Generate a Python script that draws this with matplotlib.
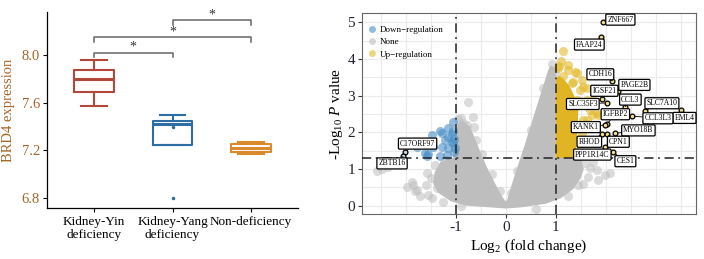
import numpy as np
import matplotlib
matplotlib.use('Agg')
import matplotlib.pyplot as plt
from matplotlib.lines import Line2D

plt.rcParams['font.family'] = ['Liberation Serif', 'DejaVu Serif']
plt.rcParams['mathtext.fontset'] = 'custom'
plt.rcParams['mathtext.rm'] = 'Liberation Serif'
plt.rcParams['mathtext.it'] = 'Liberation Serif:italic'
plt.rcParams['axes.unicode_minus'] = False

# ---------------- left panel: BRD4 boxplot ----------------
groups = ['Kidney-Yin\ndeficiency', 'Kidney-Yang\ndeficiency', 'Non-deficiency']
box_whislo = [7.575, 7.244, 7.17]
box_q1 = [7.686, 7.244, 7.19]
box_med = [7.80, 7.425, 7.222]
box_q3 = [7.875, 7.445, 7.25]
box_whishi = [7.955, 7.50, 7.27]
box_fliers = [[], [6.80], []]
box_colors = ['#B5473A', '#2E6DA4', '#D98A2E']
yang_dot = [7.40]

sig_pairs = [(1, 2), (1, 3), (2, 3)]
sig_heights = [8.02, 8.15, 8.29]
sig_labels = ['*', '*', '*']

# ---------------- right panel: volcano ----------------
# dense grey core (outline)
none_core_x = [-1.35, -1.1, -0.8, -0.3, 0.0, 0.3, 0.8, 1.1, 1.35, 1.5, 1.56, 1.5,
               1.0, 1.0, 0.97, 0.9, 0.85, 0.66, 0.39, 0.15, 0.03, 0.0, -0.05, -0.18,
               -0.38, -0.55, -0.71, -0.85, -0.95, -1.0, -1.05, -1.3, -1.42, -1.45]
none_core_y = [0.35, 0.12, 0.0, -0.05, -0.08, -0.05, 0.05, 0.2, 0.45, 0.75, 1.0, 1.3,
               1.3, 3.6, 3.78, 3.82, 3.7, 2.88, 1.7, 0.7, 0.16, 0.12, 0.2, 0.52,
               1.06, 1.61, 2.15, 2.29, 2.25, 2.0, 1.3, 1.2, 0.9, 0.6]
none_x = [-2.58, -2.48, -2.35, -1.98, -1.88, -1.85, -1.81, -1.78, -1.71, -1.6, -1.58,
          -1.55, -1.38, -1.25, -0.75, -0.65, -0.85, -0.78, -0.63, -0.9,
          1.82, 1.99, 2.09, 1.69, 1.65, 1.58, 1.75, 1.55, 1.85, 0.92,
          -1.48, -1.42, -1.5, -1.2, -0.95, -0.6, -0.48, -0.28, -0.12,
          0.1, 0.22, 0.5, 0.74, 1.25, 1.45, -1.25, -0.9, 0.98, 0.6]
none_y = [0.93, 0.99, 1.06, 0.52, 0.65, 0.56, 0.41, 0.43, 0.25, 0.55, 0.88,
          0.3, 0.47, 0.79, 2.83, 2.41, 2.24, 2.20, 2.14, 2.4,
          0.97, 0.84, 0.88, 1.02, 0.79, 1.15, 1.2, 0.6, 0.7, 3.85,
          0.2, 1.1, 0.75, 1.25, 2.35, 1.8, 1.4, 0.85, 0.4,
          0.35, 0.95, 2.05, 3.2, 0.25, 0.55, 0.1, -0.02, 3.65, -0.1]

up_core_x = [1.0, 1.0, 1.06, 1.16, 1.28, 1.38, 1.45, 1.44, 1.42, 1.4, 1.35]
up_core_y = [1.3, 3.45, 3.55, 3.45, 3.25, 2.95, 2.6, 2.2, 1.8, 1.5, 1.3]
up_x = [1.15, 1.07, 1.25, 1.39, 1.52, 1.62, 1.75, 1.85, 1.69, 1.55, 1.75, 1.42, 1.49,
        1.32, 1.15, 1.55, 1.62, 1.35, 1.42, 1.25, 1.72, 1.82, 1.62, 1.52, 1.49, 1.42,
        1.59, 1.1, 1.05, 1.58, 1.55]
up_y = [4.22, 3.81, 3.83, 3.65, 3.43, 3.20, 2.88, 2.47, 2.61, 2.34, 2.20, 2.88, 3.15,
        3.33, 3.52, 3.24, 2.88, 3.38, 3.61, 3.70, 2.47, 2.52, 2.34, 1.97, 1.70, 1.47,
        2.11, 3.95, 3.75, 1.8, 1.4]

down_x = [-1.48, -1.28, -1.15, -1.08, -1.05, -1.15, -1.31, -1.05, -1.05, -1.21, -1.28,
          -1.31, -1.18, -1.58, -1.45, -1.01, -1.15, -1.55, -1.78, -1.61, -1.04, -1.08,
          -1.03]
down_y = [1.93, 1.97, 1.88, 1.74, 2.29, 2.11, 2.02, 2.02, 1.70, 1.79, 1.61,
          1.34, 1.38, 1.34, 1.61, 1.56, 1.56, 1.40, 1.61, 1.43, 1.45, 1.95,
          1.82]

label_genes = ['ZNF667', 'FAAP24', 'CDH16', 'PAGE2B', 'IGSF21', 'SLC35F3', 'CCL3',
               'SLC7A10', 'EML4', 'CCL3L3', 'IGFBP2', 'KANK1', 'MYO18B', 'RHOD',
               'CPN1', 'PPP1R14C', 'CES1', 'C17ORF97', 'ZBTB16']
label_fc = [1.94, 1.91, 2.13, 2.25, 1.92, 2.02, 2.39, 2.79, 3.50, 2.53, 2.03, 1.99,
            2.19, 1.92, 2.02, 1.99, 2.15, -2.01, -2.05]
label_p = [5.01, 4.59, 3.40, 3.13, 2.90, 2.80, 2.70, 2.59, 2.61, 2.44, 2.23, 2.20,
           1.97, 1.95, 1.95, 1.59, 1.45, 1.47, 1.34]
label_tx = [2.29, 1.67, 1.89, 2.57, 1.97, 1.54, 2.49, 3.12, 3.57, 3.04, 2.19, 1.60,
            2.65, 1.67, 2.25, 1.73, 2.39, -1.76, -2.27]
label_ty = [5.07, 4.39, 3.58, 3.29, 3.13, 2.77, 2.89, 2.79, 2.39, 2.38, 2.49, 2.14,
            2.05, 1.74, 1.74, 1.39, 1.21, 1.69, 1.15]

fc_cut = 1.0
p_cut = 1.301

fig = plt.figure(figsize=(7.04, 2.59), dpi=100)

# ---------- boxplot ----------
ax1 = fig.add_axes([0.0668, 0.1969, 0.3565, 0.7568])
for i in range(3):
    st = dict(med=box_med[i], q1=box_q1[i], q3=box_q3[i],
              whislo=box_whislo[i], whishi=box_whishi[i],
              fliers=np.array(box_fliers[i]))
    c = box_colors[i]
    ax1.bxp([st], positions=[i + 1], widths=0.5, capwidths=0.33,
            boxprops=dict(color=c, lw=1.5),
            medianprops=dict(color=c, lw=2.2),
            whiskerprops=dict(color=c, lw=1.5),
            capprops=dict(color=c, lw=1.5),
            flierprops=dict(marker='o', markersize=1.5, markerfacecolor=c,
                            markeredgecolor=c))
ax1.plot([2] * len(yang_dot), yang_dot, 'o', ms=1.5, color=box_colors[1])

for (a, b), h, s in zip(sig_pairs, sig_heights, sig_labels):
    ax1.plot([a, a, b, b], [h - 0.04, h, h, h - 0.04], color='#666666', lw=1.1,
             clip_on=False)
    ax1.text((a + b) / 2, h + 0.045, s, ha='center', va='center', fontsize=10,
             color='#333333')

ax1.set_xlim(0.4, 3.6)
ax1.set_ylim(6.717, 8.36)
ax1.set_xticks([1, 2, 3])
ax1.set_xticklabels(groups, fontsize=9.5, linespacing=1.05)
ax1.set_yticks([6.8, 7.2, 7.6, 8.0])
ax1.set_yticklabels(['%.1f' % v for v in [6.8, 7.2, 7.6, 8.0]])
ax1.tick_params(axis='y', labelsize=10.5, labelcolor='#A86426', length=3, pad=2)
ax1.tick_params(axis='x', length=3, pad=3)
ax1.set_ylabel('BRD4 expression', fontsize=10.5, color='#A86426', labelpad=5)
for side in ['top', 'right']:
    ax1.spines[side].set_visible(False)
for side in ['left', 'bottom']:
    ax1.spines[side].set_linewidth(0.9)

# ---------- volcano ----------
ax2 = fig.add_axes([0.5142, 0.1737, 0.4744, 0.776])
ax2.set_xlim(-2.87, 3.80)
ax2.set_ylim(-0.23, 5.25)
ax2.set_xticks([-1, 0, 1])
ax2.set_yticks([0, 1, 2, 3, 4, 5])
ax2.set_xticks(np.arange(-2.5, 4.0, 0.5), minor=True)
ax2.set_yticks(np.arange(0, 5.5, 0.5), minor=True)
ax2.grid(True, which='both', color='#EBEBEB', lw=0.8, zorder=0)
ax2.set_axisbelow(True)
ax2.tick_params(which='minor', length=0)
ax2.tick_params(which='major', length=3, labelsize=11, labelcolor='#222233',
                color='#333333', pad=2)
for sp in ax2.spines.values():
    sp.set_color('#666666')
    sp.set_linewidth(0.8)

ax2.fill(none_core_x, none_core_y, color='#BEBEBE', lw=0, zorder=2)
ax2.scatter(none_x, none_y, s=42, color='#BEBEBE', alpha=0.55, lw=0, zorder=2)
ax2.fill(up_core_x, up_core_y, color='#E0B422', lw=0, zorder=3)
ax2.scatter(up_x, up_y, s=42, color='#E3B92A', alpha=0.6, lw=0, zorder=3)
ax2.scatter(down_x, down_y, s=42, color='#4A8FC7', alpha=0.6, lw=0, zorder=3)

dash = (0, (6, 3, 1.2, 3))
for v in [-fc_cut, fc_cut]:
    ax2.axvline(v, color='#222222', lw=1.1, ls=dash, zorder=5)
ax2.axhline(p_cut, color='#222222', lw=1.1, ls=dash, zorder=5)

for g, x, y, tx, ty in zip(label_genes, label_fc, label_p, label_tx, label_ty):
    fc = '#F3DC8C' if x > 0 else '#BFD8EC'
    ax2.scatter([x], [y], s=12, color=fc, edgecolor='black', lw=0.9, zorder=7)
    ax2.annotate(g, xy=(x, y), xytext=(tx, ty), textcoords='data',
                 ha='center', va='center', fontsize=5.5, zorder=8,
                 bbox=dict(boxstyle='round,pad=0.2,rounding_size=0.15',
                           fc='white', ec='black', lw=0.9),
                 arrowprops=dict(arrowstyle='-', color='black', lw=0.6,
                                 shrinkA=0, shrinkB=1.5))

handles = [Line2D([], [], marker='o', ls='', ms=5, color='#4A8FC7', alpha=0.6, mew=0),
           Line2D([], [], marker='o', ls='', ms=5, color='#BEBEBE', alpha=0.6, mew=0),
           Line2D([], [], marker='o', ls='', ms=5, color='#E3B92A', alpha=0.6, mew=0)]
ax2.legend(handles, ['Down\u2212regulation', 'None', 'Up\u2212regulation'],
           loc='upper left', bbox_to_anchor=(0.0, 0.965), fontsize=6.5,
           frameon=False, handletextpad=0.4, labelspacing=0.45, handlelength=1.0,
           borderaxespad=0.2)

ax2.set_xlabel('Log$_{2}$ (fold change)', fontsize=11, labelpad=3)
ax2.set_ylabel('-Log$_{10}$ $P$ value', fontsize=11, labelpad=2)

fig.savefig('out.png', dpi=100)
